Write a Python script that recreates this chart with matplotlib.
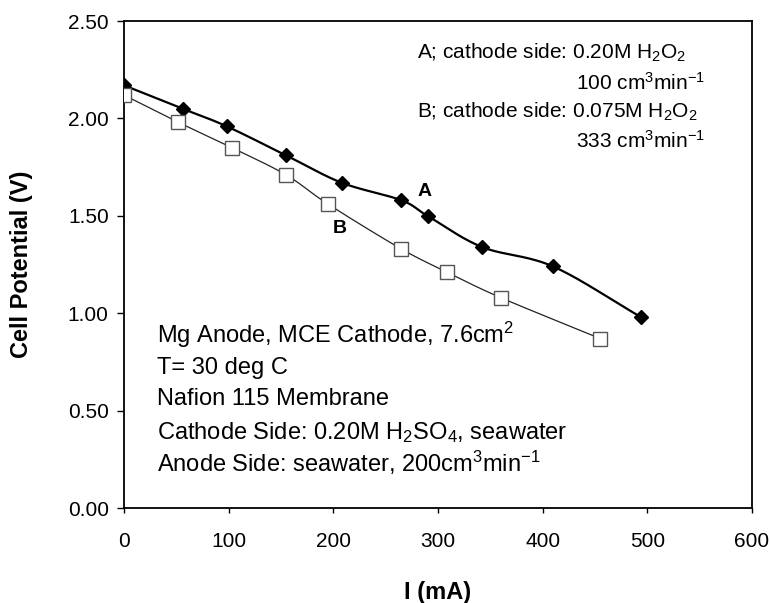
import numpy as np
import matplotlib
matplotlib.use("Agg")
import matplotlib.pyplot as plt

plt.rcParams['font.family'] = ['Liberation Sans', 'DejaVu Sans']
plt.rcParams['mathtext.fontset'] = 'custom'
plt.rcParams['mathtext.rm'] = 'Liberation Sans'
plt.rcParams['mathtext.it'] = 'Liberation Sans'
plt.rcParams['mathtext.bf'] = 'Liberation Sans:bold'

# Data
a_current = [0, 56, 98, 155, 208, 265, 290, 342, 410, 494]
a_voltage = [2.17, 2.05, 1.96, 1.81, 1.67, 1.58, 1.50, 1.34, 1.24, 0.98]
b_current = [0, 52, 103, 155, 195, 265, 309, 360, 455]
b_voltage = [2.12, 1.98, 1.85, 1.71, 1.56, 1.33, 1.21, 1.08, 0.87]
x_ticks = [0, 100, 200, 300, 400, 500, 600]
y_ticks = [0.0, 0.5, 1.0, 1.5, 2.0, 2.5]


def smooth(x, y, n=20):
    x = np.asarray(x, float); y = np.asarray(y, float)
    px = np.concatenate([[2*x[0]-x[1]], x, [2*x[-1]-x[-2]]])
    py = np.concatenate([[2*y[0]-y[1]], y, [2*y[-1]-y[-2]]])
    xs, ys = [], []
    t = np.linspace(0, 1, n, endpoint=False)
    for i in range(1, len(px)-2):
        p0, p1, p2, p3 = [np.array([px[j], py[j]]) for j in range(i-1, i+3)]
        for tt in t:
            pt = 0.5*((2*p1) + (-p0+p2)*tt + (2*p0-5*p1+4*p2-p3)*tt**2 + (-p0+3*p1-3*p2+p3)*tt**3)
            xs.append(pt[0]); ys.append(pt[1])
    xs.append(x[-1]); ys.append(y[-1])
    return xs, ys


fig = plt.figure(figsize=(7.71, 6.03), dpi=100)
ax = fig.add_axes([0.1608, 0.1575, 0.8145, 0.8076])

sx, sy = smooth(a_current, a_voltage)
ax.plot(sx, sy, color='black', lw=1.6, zorder=2)
ax.plot(a_current, a_voltage, ls='none', marker='D', ms=7.3, color='black', zorder=3)
sx, sy = smooth(b_current, b_voltage)
ax.plot(sx, sy, color='#222222', lw=0.9, zorder=2)
ax.plot(b_current, b_voltage, ls='none', marker='s', ms=9.5, mfc='white', mec='#555555', mew=1.0, zorder=3)

ax.set_xlim(0, 600)
ax.set_ylim(0, 2.5)
ax.set_xticks(x_ticks)
ax.set_xticklabels([str(v) for v in x_ticks])
ax.set_yticks(y_ticks)
ax.set_yticklabels([f"{v:.2f}" for v in y_ticks])
ax.tick_params(axis='x', direction='out', length=3.5, width=1, labelsize=15, pad=14)
ax.tick_params(axis='y', direction='out', length=5, width=1, labelsize=15, pad=6)
for s in ax.spines.values():
    s.set_linewidth(1.3)

fig.text(438/771, 1-593/603, 'I (mA)', fontsize=17, fontweight='bold', ha='center', va='center')
fig.text(22/771, 1-264.5/603, 'Cell Potential (V)', fontsize=17, fontweight='bold',
         ha='center', va='center', rotation=90)

fs = 15
ax.text(0.4666, 0.9343, r'A; cathode side: 0.20M H$_2$O$_2$', transform=ax.transAxes, fontsize=fs, va='center', ha='left')
ax.text(0.925, 0.873, r'100 cm$^3$min$^{-1}$', transform=ax.transAxes, fontsize=fs, va='center', ha='right')
ax.text(0.4666, 0.813, r'B; cathode side: 0.075M H$_2$O$_2$', transform=ax.transAxes, fontsize=fs, va='center', ha='left')
ax.text(0.925, 0.754, r'333 cm$^3$min$^{-1}$', transform=ax.transAxes, fontsize=fs, va='center', ha='right')

ax.text(0.479, 0.649, 'A', transform=ax.transAxes, fontsize=14, fontweight='bold', va='center', ha='center')
ax.text(0.344, 0.573, 'B', transform=ax.transAxes, fontsize=14, fontweight='bold', va='center', ha='center')

fs2 = 17
lines = [r'Mg Anode, MCE Cathode, 7.6cm$^2$',
         'T= 30 deg C',
         'Nafion 115 Membrane',
         r'Cathode Side: 0.20M H$_2$SO$_4$, seawater',
         r'Anode Side: seawater, 200cm$^3$min$^{-1}$']
ys_ = [0.355, 0.287, 0.224, 0.154, 0.092]
for t, yy in zip(lines, ys_):
    ax.text(0.053, yy, t, transform=ax.transAxes, fontsize=fs2, va='center', ha='left')

fig.savefig('out.png', dpi=100)
